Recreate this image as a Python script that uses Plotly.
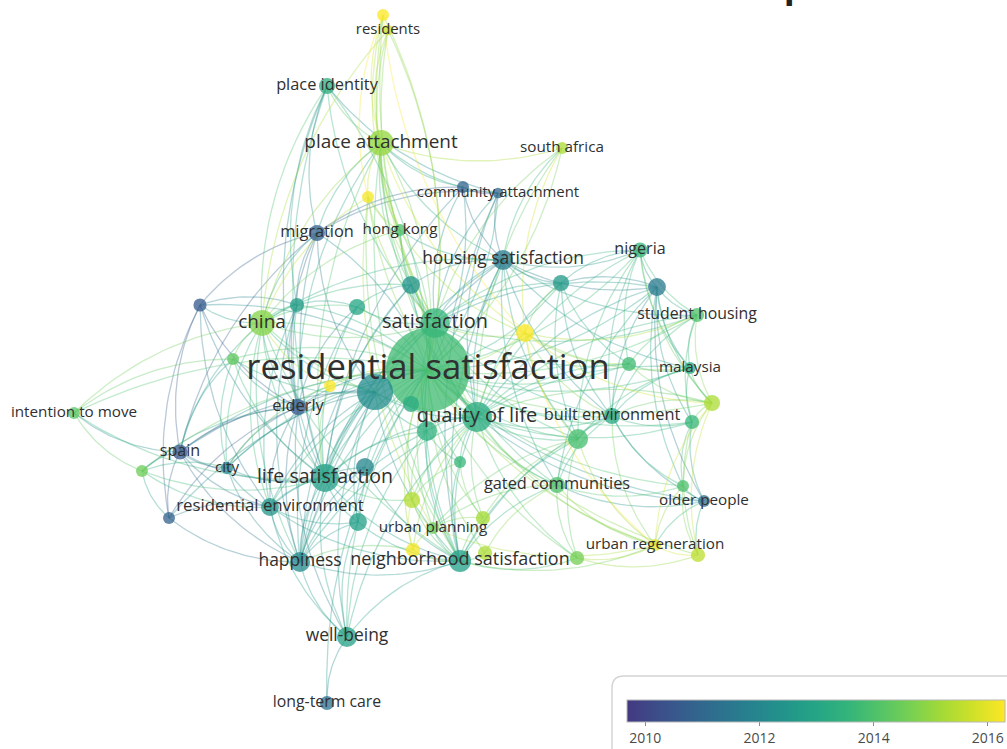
import numpy as np
import plotly.graph_objects as go
from plotly.colors import sample_colorscale

# ---- keyword map: layout coordinates, occurrences and average publication year ----
keys = [
    "k_res2", "residents", "place identity", "place attachment", "south africa",
    "k_y196", "k_p187", "community attachment", "hong kong", "migration",
    "housing satisfaction", "nigeria", "k_b287", "k_t283", "k_t285",
    "k_t307", "k_t305", "k_p305", "china", "satisfaction",
    "k_y333", "student housing", "residential satisfaction", "k_g359", "k_t364",
    "malaysia", "k_bt392", "k_y386", "k_t405", "elderly",
    "k_yg403", "intention to move", "quality of life", "k_t430", "built environment",
    "k_t422", "k_g438", "k_t462", "spain", "city",
    "k_g472", "life satisfaction", "k_bt467", "gated communities", "k_g486",
    "older people", "k_yg500", "residential environment", "k_p518", "k_t522",
    "k_yg518", "urban planning", "k_y550", "happiness", "neighborhood satisfaction",
    "k_yg553", "k_g558", "urban regeneration", "k_yg555", "well-being",
    "long-term care",
]
map_x = [383, 388, 327, 381, 562, 368, 463, 498, 400, 317,
         503, 640, 657, 561, 411, 357, 297, 200, 262, 435,
         525, 697, 428, 233, 629, 690, 375, 330, 411, 298,
         712, 74, 477, 427, 612, 692, 578, 460, 180, 227,
         142, 325, 365, 557, 683, 704, 412, 270, 169, 358,
         483, 433, 413, 300, 460, 485, 577, 655, 698, 347,
         327]
map_y = [15, 30, 86, 143, 148, 197, 187, 193, 230, 233,
         260, 250, 287, 283, 285, 307, 305, 305, 323, 323,
         333, 315, 370, 359, 364, 368, 392, 386, 404, 407,
         403, 413, 417, 431, 416, 422, 439, 462, 452, 468,
         471, 478, 467, 485, 486, 501, 500, 507, 518, 522,
         518, 528, 550, 562, 561, 553, 558, 545, 555, 637,
         703]
occurrences = [5, 4, 9, 23, 5, 5, 5, 4, 5, 9,
               14, 8, 11, 9, 11, 9, 7, 6, 23, 30,
               11, 7, 245, 5, 7, 5, 45, 5, 9, 9,
               9, 5, 31, 14, 9, 7, 14, 5, 8, 5,
               5, 27, 11, 9, 5, 5, 9, 11, 5, 11,
               7, 5, 7, 14, 17, 7, 7, 5, 7, 14,
               7]
avg_year = [2016.3, 2015.7, 2013.3, 2015.0, 2015.3, 2016.2, 2010.9, 2011.0, 2014.0, 2010.8,
            2011.6, 2013.6, 2011.6, 2012.6, 2012.4, 2013.0, 2012.7, 2010.6, 2014.8, 2013.6,
            2016.3, 2014.0, 2013.8, 2014.3, 2013.8, 2013.2, 2012.2, 2016.4, 2013.2, 2010.6,
            2015.3, 2014.2, 2013.2, 2013.4, 2013.1, 2013.6, 2013.9, 2013.6, 2010.5, 2012.0,
            2014.5, 2012.8, 2012.0, 2014.0, 2014.0, 2011.2, 2015.4, 2012.5, 2010.8, 2012.8,
            2015.2, 2014.5, 2016.2, 2012.1, 2012.8, 2015.3, 2014.6, 2016.0, 2015.5, 2012.9,
            2011.3]
# keywords whose label is hidden on the map start with "k_"
labels = ["" if k.startswith("k_") else k for k in keys]

year_ticks = [2010, 2012, 2014, 2016]
year_min, year_max = 2009.68, 2016.3

# ---- co-occurrence links ----
links = {
    "residential satisfaction": [k for k in keys if k != "residential satisfaction"],
    "k_res2": ["place attachment", "satisfaction", "quality of life", "hong kong", "k_y196", "k_y333"],
    "residents": ["place attachment", "china", "hong kong", "satisfaction"],
    "place identity": ["place attachment", "migration", "life satisfaction", "satisfaction",
                       "community attachment", "k_t305", "china", "elderly"],
    "place attachment": ["community attachment", "k_p187", "k_y196", "hong kong", "china",
                         "satisfaction", "housing satisfaction", "quality of life", "life satisfaction",
                         "k_t285", "migration", "k_y333", "neighborhood satisfaction", "south africa", "elderly"],
    "south africa": ["housing satisfaction", "k_y333", "quality of life", "satisfaction"],
    "k_y196": ["hong kong", "china", "satisfaction", "quality of life", "neighborhood satisfaction",
               "urban planning"],
    "k_p187": ["community attachment", "housing satisfaction", "satisfaction", "migration",
               "life satisfaction"],
    "community attachment": ["housing satisfaction", "satisfaction", "quality of life",
                             "neighborhood satisfaction", "migration"],
    "hong kong": ["china", "satisfaction", "housing satisfaction", "quality of life", "k_y333"],
    "migration": ["china", "k_p305", "elderly", "life satisfaction", "spain", "k_t305", "k_bt392"],
    "housing satisfaction": ["nigeria", "k_b287", "k_t283", "satisfaction", "quality of life",
                             "student housing", "malaysia", "china", "life satisfaction", "k_t285",
                             "built environment", "k_g438", "gated communities",
                             "neighborhood satisfaction", "happiness"],
    "nigeria": ["k_b287", "student housing", "malaysia", "k_t283", "k_t364", "satisfaction",
                "quality of life", "built environment", "k_g438", "k_yg403"],
    "k_b287": ["student housing", "malaysia", "k_t283", "quality of life", "satisfaction",
               "built environment", "gated communities", "older people", "k_t422", "k_g486", "k_yg403"],
    "k_t283": ["satisfaction", "quality of life", "built environment", "k_y333", "k_t364", "k_g438"],
    "k_t285": ["satisfaction", "china", "k_t307", "life satisfaction", "quality of life", "happiness"],
    "k_t307": ["china", "k_t305", "life satisfaction", "elderly", "happiness", "satisfaction"],
    "k_t305": ["china", "k_p305", "elderly", "life satisfaction", "happiness", "residential environment"],
    "k_p305": ["china", "elderly", "spain", "life satisfaction", "residential environment", "k_p518"],
    "china": ["k_g359", "satisfaction", "life satisfaction", "quality of life", "elderly", "happiness",
              "housing satisfaction", "k_y386", "k_bt392", "neighborhood satisfaction",
              "residential environment", "spain", "city", "intention to move"],
    "satisfaction": ["quality of life", "k_y333", "k_bt392", "life satisfaction", "happiness", "k_t430",
                     "neighborhood satisfaction", "built environment", "k_g438", "gated communities",
                     "k_t364", "student housing"],
    "k_y333": ["quality of life", "k_t364", "malaysia", "k_yg403", "student housing", "k_g438",
               "built environment", "urban regeneration"],
    "student housing": ["malaysia", "k_yg403", "k_t364", "built environment", "quality of life", "k_t422"],
    "k_g359": ["life satisfaction", "spain", "city", "elderly", "intention to move", "k_bt392"],
    "k_t364": ["malaysia", "quality of life", "built environment", "k_yg403"],
    "malaysia": ["k_yg403", "k_t422", "built environment", "quality of life", "k_g438"],
    "k_bt392": ["life satisfaction", "elderly", "happiness", "quality of life", "k_t430", "well-being",
                "neighborhood satisfaction", "residential environment", "k_t522", "city", "spain", "k_y386"],
    "k_y386": ["elderly", "life satisfaction", "city"],
    "elderly": ["spain", "city", "life satisfaction", "residential environment", "k_p518", "happiness",
                "well-being", "k_g472"],
    "k_yg403": ["k_t422", "built environment", "urban regeneration", "k_yg555", "k_g486", "quality of life"],
    "intention to move": ["spain", "k_g472", "life satisfaction"],
    "quality of life": ["k_t430", "life satisfaction", "happiness", "well-being", "neighborhood satisfaction",
                        "built environment", "k_g438", "k_t462", "gated communities", "urban planning",
                        "k_yg500", "k_yg518", "urban regeneration", "k_t422", "older people", "k_y550", "k_g558"],
    "k_t430": ["life satisfaction", "happiness", "well-being", "neighborhood satisfaction", "k_t462", "k_yg500"],
    "built environment": ["k_t422", "k_g438", "gated communities", "neighborhood satisfaction",
                          "older people", "k_g486", "urban regeneration"],
    "k_t422": ["k_g486", "older people", "k_yg555"],
    "k_g438": ["gated communities", "neighborhood satisfaction", "urban planning", "k_g558", "k_yg518",
               "urban regeneration"],
    "k_t462": ["neighborhood satisfaction", "k_yg500", "k_yg518"],
    "spain": ["city", "k_g472", "k_p518", "residential environment", "life satisfaction", "happiness"],
    "city": ["life satisfaction", "residential environment", "k_g472", "happiness"],
    "k_g472": ["residential environment", "life satisfaction", "k_p518"],
    "life satisfaction": ["k_bt467", "residential environment", "happiness", "well-being",
                          "neighborhood satisfaction", "k_t522", "k_yg500"],
    "k_bt467": ["happiness", "neighborhood satisfaction", "residential environment", "k_t522"],
    "gated communities": ["k_g486", "older people", "neighborhood satisfaction", "urban planning",
                          "urban regeneration", "k_g558", "k_yg553"],
    "k_g486": ["older people", "k_yg555", "urban regeneration"],
    "older people": ["k_yg555", "urban regeneration"],
    "k_yg500": ["neighborhood satisfaction", "urban planning", "k_y550"],
    "residential environment": ["k_p518", "happiness", "k_t522", "well-being", "neighborhood satisfaction"],
    "k_p518": ["happiness"],
    "k_t522": ["happiness", "neighborhood satisfaction", "well-being"],
    "k_yg518": ["urban planning", "neighborhood satisfaction"],
    "urban planning": ["neighborhood satisfaction", "k_y550", "urban regeneration"],
    "k_y550": ["neighborhood satisfaction", "happiness"],
    "happiness": ["well-being", "neighborhood satisfaction"],
    "neighborhood satisfaction": ["well-being", "k_yg553", "k_g558", "urban regeneration"],
    "k_g558": ["urban regeneration", "k_yg555"],
    "urban regeneration": ["k_yg555"],
    "well-being": ["long-term care"],
}

idx = {k: i for i, k in enumerate(keys)}
xs = np.array(map_x, float)
ys = np.array(map_y, float)
yrs = np.array(avg_year, float)
occ = np.array(occurrences, float)

# overlay palette: the upper part of viridis (indigo -> teal -> green -> yellow)
steps = np.linspace(0, 1, 13)
palette_hex = sample_colorscale("Viridis", list(0.17 + 0.83 * steps))
overlay_scale = [[float(s), c] for s, c in zip(steps, palette_hex)]


def year_color(v, alpha):
    t = float(np.clip((v - year_min) / (year_max - year_min), 0, 1))
    c = sample_colorscale(overlay_scale, [t], colortype="tuple")[0]
    r, g, b = [int(round(255 * z)) if z <= 1 else int(z) for z in c]
    return f"rgba({r},{g},{b},{alpha})"


def arc(i, j, bend=0.17, n=26):
    x0, y0, x1, y1 = xs[i], ys[i], xs[j], ys[j]
    mx, my = (x0 + x1) / 2, (y0 + y1) / 2
    cx, cy = mx - (y1 - y0) * bend, my + (x1 - x0) * bend
    t = np.linspace(0, 1, n)
    bx = (1 - t) ** 2 * x0 + 2 * (1 - t) * t * cx + t ** 2 * x1
    by = (1 - t) ** 2 * y0 + 2 * (1 - t) * t * cy + t ** 2 * y1
    return bx, by


# group links into colour bins by the mean year of their two ends
seen = set()
bins = {}
for src, tgts in links.items():
    for tgt in tgts:
        a, b = idx[src], idx[tgt]
        pair = tuple(sorted((a, b)))
        if a == b or pair in seen:
            continue
        seen.add(pair)
        ym = (yrs[a] + yrs[b]) / 2
        key = round(ym * 4) / 4
        bx, by = arc(a, b)
        bins.setdefault(key, ([], []))
        bins[key][0].extend(list(bx) + [None])
        bins[key][1].extend(list(by) + [None])

fig = go.Figure()

for key in sorted(bins):
    bx, by = bins[key]
    fig.add_trace(go.Scatter(
        x=bx, y=by, mode="lines", hoverinfo="skip", showlegend=False,
        line=dict(color=year_color(key, 0.34), width=1.3),
    ))

# node circles: radius grows with the square root of occurrences
diam = 5.37 * np.sqrt(occ)
order = np.argsort(-occ)
fig.add_trace(go.Scatter(
    x=xs[order], y=ys[order], mode="markers", hoverinfo="text",
    text=[keys[i] for i in order], showlegend=False,
    marker=dict(
        size=diam[order], color=yrs[order], colorscale=overlay_scale,
        cmin=year_min, cmax=year_max, opacity=0.76, line=dict(width=0),
        showscale=True,
        colorbar=dict(
            orientation="h", x=627 / 1007, xanchor="left", y=1 - 700 / 749, yanchor="top",
            lenmode="pixels", len=378, thickness=22, xpad=0, ypad=0,
            outlinewidth=1, outlinecolor="#b8b8b8",
            tickvals=year_ticks, ticktext=[str(v) for v in year_ticks],
            ticks="outside", ticklen=4, tickcolor="#8a8a8a", tickwidth=1,
            tickfont=dict(family="Open Sans", size=14, color="#4a4a4a"),
        ),
    ),
))

# labels scale with occurrences as well
font_sizes = list(12 + 1.45 * np.sqrt(occ))
fig.add_trace(go.Scatter(
    x=xs, y=ys, mode="text", text=labels, hoverinfo="skip", showlegend=False,
    textposition="middle center",
    textfont=dict(family="Open Sans", size=font_sizes, color="#303030"),
))

fig.update_layout(
    width=1007, height=749,
    margin=dict(l=0, r=0, t=0, b=0, autoexpand=False),
    paper_bgcolor="white", plot_bgcolor="white",
    xaxis=dict(range=[0, 1007], visible=False, fixedrange=True),
    yaxis=dict(range=[749, 0], visible=False, fixedrange=True),
    shapes=[dict(
        type="path", xref="x", yref="y", layer="below",
        path="M 612,764 L 612,688 Q 612,676 624,676 L 1030,676 L 1030,764 Z",
        line=dict(color="#d4d4d4", width=1.5), fillcolor="white",
    )],
    annotations=[dict(
        text="<b>Gráfico 3. Red de coocurrencia de palabras clave</b>",
        xref="paper", yref="paper", x=175 / 1007, y=1, xanchor="left", yanchor="bottom",
        yshift=-10, showarrow=False,
        font=dict(family="Open Sans", size=36, color="#222222"),
    )],
)

fig.write_html("out.html")
